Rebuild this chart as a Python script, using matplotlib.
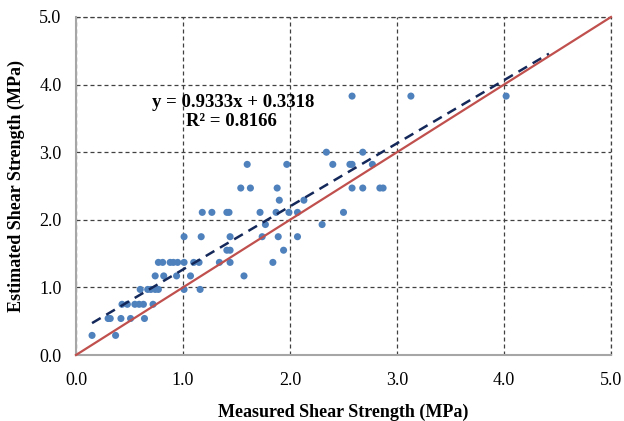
import matplotlib
matplotlib.use("Agg")
import matplotlib.pyplot as plt
import numpy as np

# Measured (x) vs Estimated (y) shear strength, MPa
measured = [
    0.15, 0.37,
    0.30, 0.32, 0.42, 0.51, 0.64,
    0.43, 0.48, 0.55, 0.59, 0.63, 0.72,
    0.60, 0.67, 0.70, 0.74, 0.77, 1.01, 1.16,
    0.74, 0.82, 0.94, 1.07, 1.57,
    0.77, 0.81, 0.88, 0.91, 0.95, 1.01, 1.10, 1.15, 1.34, 1.44, 1.84,
    1.41, 1.44, 1.94,
    1.01, 1.17, 1.44, 1.74, 1.89, 2.07,
    1.77, 2.30,
    1.18, 1.27, 1.41, 1.43, 1.72, 1.87, 1.99, 2.07, 2.50,
    1.90, 2.13,
    1.54, 1.63, 1.88, 2.58, 2.68, 2.84, 2.87,
    1.60, 1.97, 2.40, 2.56, 2.58, 2.77,
    2.34, 2.68,
    2.58, 3.13, 4.02,
]
estimated = [
    0.29, 0.29,
    0.54, 0.54, 0.54, 0.54, 0.54,
    0.75, 0.75, 0.75, 0.75, 0.75, 0.75,
    0.97, 0.97, 0.97, 0.97, 0.97, 0.97, 0.97,
    1.17, 1.17, 1.17, 1.17, 1.17,
    1.37, 1.37, 1.37, 1.37, 1.37, 1.37, 1.37, 1.37, 1.37, 1.37, 1.37,
    1.55, 1.55, 1.55,
    1.75, 1.75, 1.75, 1.75, 1.75, 1.75,
    1.93, 1.93,
    2.11, 2.11, 2.11, 2.11, 2.11, 2.11, 2.11, 2.11, 2.11,
    2.29, 2.29,
    2.47, 2.47, 2.47, 2.47, 2.47, 2.47, 2.47,
    2.82, 2.82, 2.82, 2.82, 2.82, 2.82,
    3.00, 3.00,
    3.83, 3.83, 3.83,
]

# Trendline (as reported)
slope = 0.9333
intercept = 0.3318
r_squared = 0.8166
trend_x_range = [0.15, 4.42]

# 1:1 line
line_range = [0.0, 5.0]

ticks = [0.0, 1.0, 2.0, 3.0, 4.0, 5.0]
tick_labels = ["0.0", "1.0", "2.0", "3.0", "4.0", "5.0"]
x_label = "Measured Shear Strength (MPa)"
y_label = "Estimated Shear Strength (MPa)"

plt.rcParams['font.family'] = ['Liberation Serif', 'DejaVu Serif']

fig = plt.figure(figsize=(6.24, 4.21), dpi=100)
ax = fig.add_axes([76 / 624, 1 - 355 / 421, 535 / 624, 338 / 421])

ax.set_xlim(0, 5)
ax.set_ylim(0, 5)

grid_style = dict(color='#404040', linestyle=(0, (3.2, 2.4)), linewidth=0.9)
ax.set_axisbelow(True)
ax.grid(True, **grid_style)

for s in ['top', 'right']:
    ax.spines[s].set_visible(False)
for s in ['left', 'bottom']:
    ax.spines[s].set_color('#A6A6A6')
    ax.spines[s].set_linewidth(1.5)

ax.axhline(5.0, clip_on=False, **grid_style)
ax.axvline(5.0, clip_on=False, **grid_style)

ax.scatter(measured, estimated, s=26, color='#4F81BD', edgecolors='none', zorder=3)

tx = np.array(trend_x_range)
ax.plot(tx, slope * tx + intercept, color='#14285A', linestyle=(0, (4, 2.6)),
        linewidth=1.8, zorder=4)

ax.plot(line_range, line_range, color='#C0504D', linewidth=1.6, zorder=5, clip_on=False)

ax.set_xticks(ticks)
ax.set_xticklabels(tick_labels)
ax.set_yticks(ticks)
ax.set_yticklabels(tick_labels)
ax.tick_params(axis='both', length=0, labelsize=13, colors='black')
ax.tick_params(axis='x', pad=12.5)
ax.tick_params(axis='y', pad=10.5)

ax.set_xlabel(x_label, fontsize=13, fontweight='bold', labelpad=10)
ax.set_ylabel(y_label, fontsize=13, fontweight='bold', labelpad=10)

ax.text(1.467, 3.74, f"y = {slope:.4f}x + {intercept:.4f}", ha='center', va='center',
        fontsize=13.5, fontweight='bold', zorder=6)
ax.text(1.45, 3.46, f"R\u00b2 = {r_squared:.4f}", ha='center', va='center',
        fontsize=13.5, fontweight='bold', zorder=6)

fig.savefig("out.png", dpi=100)
